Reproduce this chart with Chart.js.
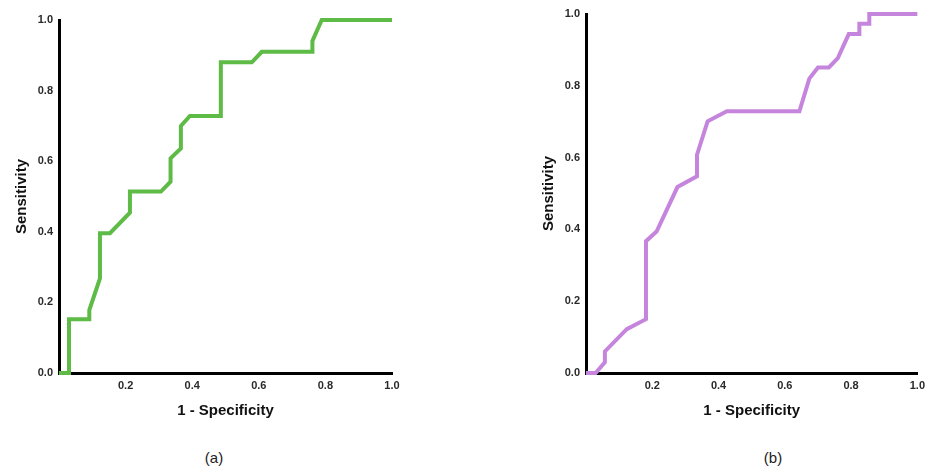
<!DOCTYPE html>
<html>
<head>
<meta charset="utf-8">
<script src="https://cdn.jsdelivr.net/npm/chart.js@4/dist/chart.umd.min.js"></script>
<style>
  html, body { margin: 0; padding: 0; background: #fff; }
  body { width: 931px; height: 468px; position: relative; overflow: hidden; }
  .box { position: absolute; top: 0; height: 430px; }
  .cap { position: absolute; top: 449px; font: 15px "Liberation Sans", Arial, sans-serif; color: #222; text-align: center; width: 60px; }
</style>
</head>
<body>
<div class="box" style="left:0;width:420px;"><canvas id="ca"></canvas></div>
<div class="box" style="left:527px;width:404px;"><canvas id="cb"></canvas></div>
<div class="cap" style="left:184px;">(a)</div>
<div class="cap" style="left:743px;">(b)</div>
<script>
// ROC curve (a)
const fprA  = [0, 0.03, 0.03, 0.091, 0.091, 0.123, 0.123, 0.153, 0.213, 0.213, 0.306, 0.335, 0.335, 0.366, 0.366, 0.393, 0.486, 0.486, 0.579, 0.609, 0.761, 0.761, 0.789, 1.0];
const sensA = [0, 0, 0.152, 0.152, 0.178, 0.268, 0.396, 0.396, 0.454, 0.514, 0.514, 0.542, 0.608, 0.636, 0.70, 0.728, 0.728, 0.880, 0.880, 0.910, 0.910, 0.941, 1.0, 1.0];
// ROC curve (b)
const fprB  = [0, 0.029, 0.057, 0.057, 0.123, 0.181, 0.181, 0.213, 0.276, 0.335, 0.335, 0.367, 0.425, 0.644, 0.674, 0.70, 0.733, 0.76, 0.793, 0.825, 0.825, 0.855, 0.855, 1.0];
const sensB = [0, 0, 0.03, 0.06, 0.122, 0.150, 0.367, 0.394, 0.518, 0.548, 0.608, 0.701, 0.729, 0.729, 0.82, 0.851, 0.851, 0.877, 0.944, 0.944, 0.973, 0.973, 1.0, 1.0];
const tickValues = [0, 0.2, 0.4, 0.6, 0.8, 1.0];
const xTitle = '1 - Specificity';
const yTitle = 'Sensitivity';

const FONT = '"Liberation Sans", Arial, sans-serif';

function makeChart(id, xs, ys, color, padTop, padRight) {
  const pts = xs.map((x, i) => ({ x: x, y: ys[i] }));
  return new Chart(document.getElementById(id), {
    type: 'scatter',
    data: { datasets: [{ data: pts, showLine: true, borderColor: color, borderWidth: 4, pointRadius: 0, fill: false, tension: 0, clip: false, borderJoinStyle: 'miter' }] },
    options: {
      responsive: true, maintainAspectRatio: false, animation: false,
      layout: { padding: { top: padTop, right: padRight, left: 0, bottom: 0 } },
      plugins: { legend: { display: false }, tooltip: { enabled: false } },
      scales: {
        x: {
          type: 'linear', min: 0, max: 1,
          afterBuildTicks: s => { s.ticks = tickValues.map(v => ({ value: v })); },
          afterFit: s => { s.height = 57; },
          grid: { display: false, drawTicks: false },
          border: { display: true, color: '#000', width: 3 },
          ticks: { color: '#2a2a2a', padding: 6, font: { family: FONT, size: 11, weight: 'bold' },
                   callback: v => v === 0 ? '' : v.toFixed(1), maxRotation: 0, autoSkip: false },
          title: { display: true, text: xTitle, color: '#111', padding: { top: 0, bottom: 10 }, font: { family: FONT, size: 15, weight: 'bold' } }
        },
        y: {
          type: 'linear', min: 0, max: 1,
          afterBuildTicks: s => { s.ticks = tickValues.map(v => ({ value: v })); },
          afterFit: s => { s.width = 59; },
          grid: { display: false, drawTicks: false },
          border: { display: true, color: '#000', width: 3 },
          ticks: { color: '#2a2a2a', padding: 6, font: { family: FONT, size: 11, weight: 'bold' },
                   callback: v => v.toFixed(1), autoSkip: false },
          title: { display: true, text: yTitle, color: '#111', padding: { top: 13, bottom: 0 }, font: { family: FONT, size: 15, weight: 'bold' } }
        }
      }
    }
  });
}
makeChart('ca', fprA, sensA, '#5DBB46', 20, 28);
makeChart('cb', fprB, sensB, '#C585DD', 14, 9);
</script>
</body>
</html>
